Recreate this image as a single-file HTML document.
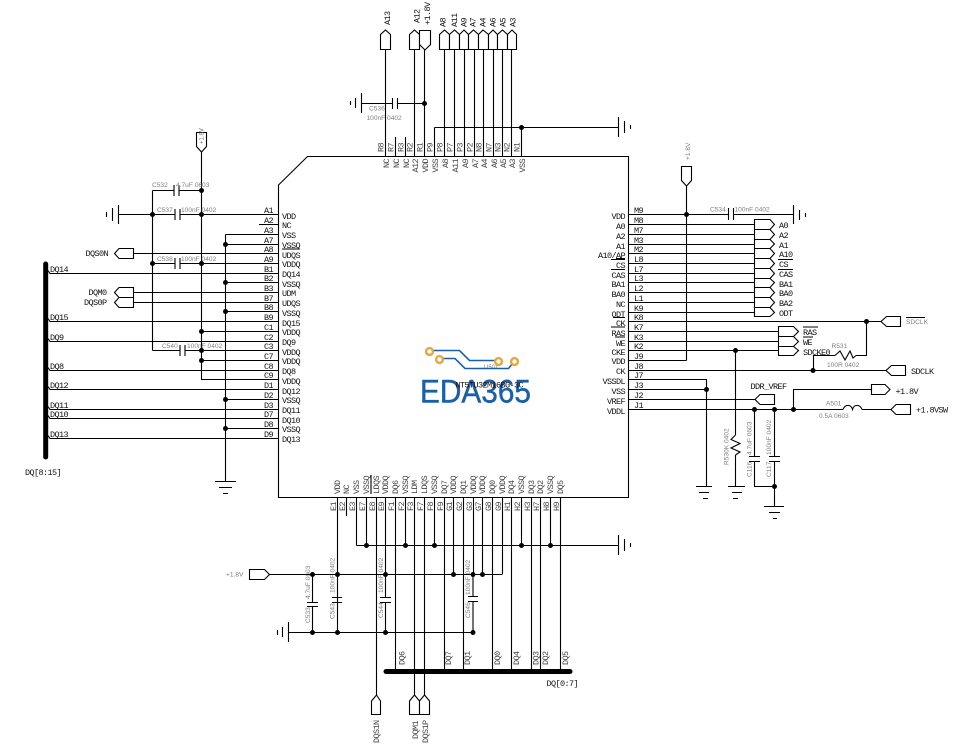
<!DOCTYPE html>
<html><head><meta charset="utf-8"><style>
html,body{margin:0;padding:0;background:#fff}
svg{display:block}
.l{fill:none;stroke:#000;stroke-width:1.1}
.s{fill:#fff;stroke:#000;stroke-width:1.1}
.m text,text.m{font-family:"Liberation Mono",monospace;font-size:8.5px;letter-spacing:-.6px;fill:#111}
.p text{fill:#444}
.g text,text.g{font-family:"Liberation Sans",sans-serif;font-size:6.6px;fill:#808080}
.e{text-anchor:end}
</style></head><body>
<svg xmlns="http://www.w3.org/2000/svg" width="954" height="749" viewBox="0 0 954 749">
<rect width="954" height="749" fill="#fff"/>
<!-- chip -->
<path class="l" d="M278.5 185L307.5 156.5H628.5V497.5H278.5Z"/>
<!-- top wiring -->
<path class="l" d="M385.5 49V156M395.5 137V156M405.5 137V156M414.5 49V156M424.5 50V156M434.5 127.5V156M444.5 49V156M454.5 49V156M464.5 49V156M474.5 49V156M483.5 49V156M493.5 49V156M502.5 49V156M511.5 49V156M521.5 127.5V156M434.5 127.5H618.5M618.5 117V137M624.5 121V133M630.5 125V129M361.5 103.5H392.5M397.5 103.5H424.5M361.5 93V113M355.5 98V108M350.5 101V105M392.5 98V109M397.5 98V109"/>
<g class="s">
<polygon points="380.5,49.5 380.5,34.5 385.5,30 390.5,34.5 390.5,49.5"/>
<polygon points="409.5,49.5 409.5,34.5 414.5,30 419.5,34.5 419.5,49.5"/>
<polygon points="419.5,30.5 430.5,30.5 430.5,44.5 425,50 419.5,44.5"/>
<polygon points="439.5,49.5 439.5,34.5 444.5,30 449.5,34.5 449.5,49.5"/>
<polygon points="449.5,49.5 449.5,34.5 454.5,30 459.5,34.5 459.5,49.5"/>
<polygon points="459.5,49.5 459.5,34.5 464,30 468.5,34.5 468.5,49.5"/>
<polygon points="468.5,49.5 468.5,34.5 473.5,30 478.5,34.5 478.5,49.5"/>
<polygon points="478.5,49.5 478.5,34.5 483,30 488.5,34.5 488.5,49.5"/>
<polygon points="488.5,49.5 488.5,34.5 493,30 497.5,34.5 497.5,49.5"/>
<polygon points="497.5,49.5 497.5,34.5 502.5,30 507.5,34.5 507.5,49.5"/>
<polygon points="507.5,49.5 507.5,34.5 512,30 516.5,34.5 516.5,49.5"/>
</g>
<g transform="rotate(-90)">
<g class="m">
<text x="-25" y="390">A13</text><text x="-23" y="419.5">A12</text><text x="-25" y="430">+1.8V</text>
<text x="-27" y="445.5">A8</text><text x="-27" y="457">A11</text><text x="-27" y="466.5">A9</text><text x="-27" y="475.5">A7</text><text x="-27" y="485.5">A4</text><text x="-27" y="495.5">A6</text><text x="-27" y="505.5">A5</text><text x="-27" y="515.5">A3</text>
</g>
<g class="m p">
<text x="-152" y="383.5">R8</text><text x="-152" y="393.5">R7</text><text x="-152" y="403.5">R3</text><text x="-152" y="412.5">R2</text><text x="-152" y="422.5">R1</text><text x="-152" y="432.5">P9</text><text x="-152" y="442.5">P8</text><text x="-152" y="452.5">P7</text><text x="-152" y="462.5">P3</text><text x="-152" y="472.5">P2</text><text x="-152" y="481.5">N8</text><text x="-152" y="491.5">N7</text><text x="-152" y="500.5">N3</text><text x="-152" y="509.5">N2</text><text x="-152" y="519.5">N1</text>
</g>
<g class="m p" text-anchor="end">
<text x="-159" y="389">NC</text><text x="-159" y="399">NC</text><text x="-159" y="409">NC</text><text x="-159" y="418">A12</text><text x="-159" y="428">VDD</text><text x="-159" y="438">VSS</text><text x="-159" y="448">A8</text><text x="-159" y="458">A11</text><text x="-159" y="468">A9</text><text x="-159" y="478">A7</text><text x="-159" y="487">A4</text><text x="-159" y="497">A6</text><text x="-159" y="506">A5</text><text x="-159" y="515">A3</text><text x="-159" y="525">VSS</text>
</g>
<!-- bottom labels -->
<g class="m p">
<text x="-494" y="340">VDD</text><text x="-494" y="349">NC</text><text x="-494" y="359">VSS</text><text x="-494" y="369">VSSQ</text><text x="-494" y="379">LDQS</text><text x="-494" y="388">VDDQ</text><text x="-494" y="398">DQ6</text><text x="-494" y="408">VSSQ</text><text x="-494" y="417">LDM</text><text x="-494" y="427">LDQS</text><text x="-494" y="437">VSSQ</text><text x="-494" y="447">DQ7</text><text x="-494" y="456">VDDQ</text><text x="-494" y="466">DQ1</text><text x="-494" y="476">VDDQ</text><text x="-494" y="485">VDDQ</text><text x="-494" y="495">DQ0</text><text x="-494" y="505">VDDQ</text><text x="-494" y="514">DQ4</text><text x="-494" y="524">VSSQ</text><text x="-494" y="534">DQ3</text><text x="-494" y="543">DQ2</text><text x="-494" y="553">VSSQ</text><text x="-494" y="563">DQ5</text>
<text x="-511" y="336">E1</text><text x="-511" y="345">E2</text><text x="-511" y="355">E3</text><text x="-511" y="365">E7</text><text x="-511" y="375">E8</text><text x="-511" y="384">E9</text><text x="-511" y="394">F1</text><text x="-511" y="404">F2</text><text x="-511" y="413">F3</text><text x="-511" y="423">F7</text><text x="-511" y="433">F8</text><text x="-511" y="443">F9</text><text x="-511" y="452">G1</text><text x="-511" y="462">G2</text><text x="-511" y="472">G3</text><text x="-511" y="481">G7</text><text x="-511" y="491">G8</text><text x="-511" y="501">G9</text><text x="-511" y="510">H1</text><text x="-511" y="520">H2</text><text x="-511" y="530">H3</text><text x="-511" y="539">H7</text><text x="-511" y="549">H8</text><text x="-511" y="559">H9</text>
<text x="-665" y="404.5">DQ6</text><text x="-665" y="451">DQ7</text><text x="-665" y="470">DQ1</text><text x="-665" y="500">DQ0</text><text x="-665" y="519">DQ4</text><text x="-665" y="538.5">DQ3</text><text x="-665" y="548">DQ2</text><text x="-665" y="568">DQ5</text>
<text x="-743" y="379">DQS1N</text><text x="-739" y="418">DQM1</text><text x="-743" y="428">DQS1P</text>
</g>
<!-- grey rotated -->
<g class="g">
<text x="-144" y="203.5" style="font-size:6px">+1.8V</text>
<text x="-160" y="690">+1.8V</text>
<text x="-465" y="728.5">R530K 0402</text>
<text x="-455" y="751.5">4.7uF 0603</text><text x="-477" y="751.5">C116</text>
<text x="-455" y="771">100nF 0402</text><text x="-477" y="771">C117</text>
<text x="-599" y="310">4.7uF 0603</text><text x="-623" y="310">C533</text>
<text x="-593" y="334.5">100nF 0402</text><text x="-619" y="334.5">C543</text>
<text x="-593" y="383">100nF 0402</text><text x="-618" y="383">C544</text>
<text x="-595" y="470">100nF 0402</text><text x="-618" y="470">C546</text>
</g>
</g>
<text class="g" x="369" y="110.5">C536</text><text class="g" x="366.5" y="120">100nF 0402</text>
<!-- left wiring -->
<path class="l" d="M118.5 214.5H175M180 214.5H278M118.5 205V224M112.5 208V221M106.5 212V217M175 209V220M180 209V220M201.5 152V379.5M152.5 190.5V350.5M152.5 190.5H174M179 190.5H201M174 185V196M179 185V196M152.5 263.5H175M180 263.5H278M175 258V269M180 258V269M152.5 350.5H180M185 350.5H278M180 345V356M185 345V356M201 331.5H278M201 360.5H278M201 379.5H278M259 224.5H278M225.5 234.5V481.5M225.5 234.5H278M225 244.5H278M225 282.5H278M225 311.5H278M225 399.5H278M225 428.5H278M215 481.5H236M219 487.5H232M223 493.5H228M133 253.5H278M133 292.5H278M133 302.5H278M48 270.5L50 273.5H278M48 318.5L50 321.5H278M48 338.5L50 341.5H278M48 367.5L50 370.5H278M48 386.5L50 389.5H278M48 406.5L50 409.5H278M48 415.5L50 418.5H278M48 435.5L50 438.5H278M282 249H300"/>
<polygon class="s" points="196.5,132.5 206.5,132.5 206.5,146.5 201.5,152 196.5,146.5"/>
<text class="g" transform="rotate(-90 203.5 144)" x="203.5" y="144" style="font-size:6px">+1.8V</text>
<g class="s">
<polygon points="133.5,248.5 119,248.5 114.5,253.5 119,258.5 133.5,258.5"/>
<polygon points="133.5,287.5 119,287.5 114.5,292.5 119,297.5 133.5,297.5"/>
<polygon points="133.5,297.5 119,297.5 114.5,302.5 119,307.5 133.5,307.5"/>
</g>
<line x1="45.7" y1="264" x2="45.7" y2="457" stroke="#000" stroke-width="5" stroke-linecap="round"/>
<g class="m">
<text x="85.5" y="256">DQS0N</text><text x="88.5" y="295">DQM0</text><text x="84" y="305">DQS0P</text>
<text x="50" y="272">DQ14</text><text x="50" y="320">DQ15</text><text x="50" y="340">DQ9</text><text x="50" y="369">DQ8</text><text x="50" y="388">DQ12</text><text x="50" y="408">DQ11</text><text x="50" y="417">DQ10</text><text x="50" y="437">DQ13</text>
<text x="25" y="475">DQ[8:15]</text>
</g>
<g class="m" text-anchor="end">
<text x="273" y="213">A1</text><text x="273" y="223">A2</text><text x="273" y="233">A3</text><text x="273" y="243">A7</text><text x="273" y="252">A8</text><text x="273" y="262">A9</text><text x="273" y="272">B1</text><text x="273" y="281">B2</text><text x="273" y="291">B3</text><text x="273" y="301">B7</text><text x="273" y="310">B8</text><text x="273" y="320">B9</text><text x="273" y="330">C1</text><text x="273" y="340">C2</text><text x="273" y="349">C3</text><text x="273" y="359">C7</text><text x="273" y="369">C8</text><text x="273" y="378">C9</text><text x="273" y="388">D1</text><text x="273" y="398">D2</text><text x="273" y="408">D3</text><text x="273" y="417">D7</text><text x="273" y="427">D8</text><text x="273" y="437">D9</text>
</g>
<g class="m">
<text x="282" y="219">VDD</text><text x="282" y="228">NC</text><text x="282" y="238">VSS</text><text x="282" y="248">VSSQ</text><text x="282" y="258">UDQS</text><text x="282" y="267">VDDQ</text><text x="282" y="277">DQ14</text><text x="282" y="287">VSSQ</text><text x="282" y="296">UDM</text><text x="282" y="306">UDQS</text><text x="282" y="316">VSSQ</text><text x="282" y="326">DQ15</text><text x="282" y="335">VDDQ</text><text x="282" y="345">DQ9</text><text x="282" y="355">VDDQ</text><text x="282" y="364">VDDQ</text><text x="282" y="374">DQ8</text><text x="282" y="384">VDDQ</text><text x="282" y="394">DQ12</text><text x="282" y="403">VSSQ</text><text x="282" y="413">DQ11</text><text x="282" y="423">DQ10</text><text x="282" y="432">VSSQ</text><text x="282" y="442">DQ13</text>
</g>
<g class="g">
<text x="152" y="187">C532</text><text x="176" y="187">4.7uF 0603</text>
<text x="157" y="212">C537</text><text x="181" y="212">100nF 0402</text>
<text x="157" y="261">C538</text><text x="181" y="261">100nF 0402</text>
<text x="162" y="348">C540</text><text x="187" y="348">100nF 0402</text>
</g>
<!-- right wiring -->
<path class="l" d="M628 214.5H728.5M733.5 214.5H793.5M728.5 208V220M733.5 208V220M793.5 205V224M799.5 210V220M805.5 213V217M686.5 186V360.5M628 360.5H686.5M628 224.5H754M628 234.5H754M628 244.5H754M628 253.5H754M628 263.5H754M628 273.5H754M628 282.5H754M628 292.5H754M628 302.5H754M628 312.5H754M628 321.5H881M866.5 321.5V355.5H856M835 355.5H813.5V370.5M628 331.5H778M628 341.5H778M628 350.5H778M628 370.5H886M628 379.5H706.5V486M628 389.5H706.5M696 486.5H712M699 492.5H709M703 498.5H708M735.5 350.5V435M735.5 455V486M728 486.5H745M732 492.5H742M733 498.5H738M628 399.5H755M628 409.5H843M862 409.5H891M793.5 409.5V389.5H872M754.5 409.5V456M774.5 409.5V456M749 456.5H760M749 461.5H760M769 456.5H780M769 461.5H780M754.5 461V486.5H774.5M774.5 461V506M764 506.5H784M769 512.5H780M773 518.5H777"/>
<path class="l" d="M835 355.5L840 351L845 360L850 351L853 358L856 355.5M735.5 435L731 439.5L740 443.5L731 448L740 452L735.5 455M843 409.5C845 404 851 404 852.5 409.5C854 404 860 404 862 409.5"/>
<path class="l" d="M611 259.5H625M611 269.5H625M613 317.5H625M611 327H625M615 337H625M778 259.5H793M778 269.5H793M803 327H818M803 337H813M906 317.5H925M616 258.5H625"/>
<g class="s">
<polygon points="681.5,166.5 691.5,166.5 691.5,180.5 686.5,186 681.5,180.5"/>
<polygon points="754.5,219.5 770,219.5 774.5,224.5 770,229.5 754.5,229.5"/>
<polygon points="754.5,229.5 770,229.5 774.5,234.5 770,239.5 754.5,239.5"/>
<polygon points="754.5,239.5 770,239.5 774.5,244 770,248.5 754.5,248.5"/>
<polygon points="754.5,248.5 770,248.5 774.5,253.5 770,258.5 754.5,258.5"/>
<polygon points="754.5,258.5 770,258.5 774.5,263.5 770,268.5 754.5,268.5"/>
<polygon points="754.5,268.5 770,268.5 774.5,273.5 770,278.5 754.5,278.5"/>
<polygon points="754.5,278.5 770,278.5 774.5,282.5 770,287.5 754.5,287.5"/>
<polygon points="754.5,287.5 770,287.5 774.5,292.5 770,297.5 754.5,297.5"/>
<polygon points="754.5,297.5 770,297.5 774.5,302.5 770,307.5 754.5,307.5"/>
<polygon points="754.5,307.5 770,307.5 774.5,312.5 770,316.5 754.5,316.5"/>
<polygon points="778.5,326.5 793.5,326.5 798.5,331.5 793.5,336.5 778.5,336.5"/>
<polygon points="778.5,336.5 793.5,336.5 798.5,341.5 793.5,346.5 778.5,346.5"/>
<polygon points="778.5,346.5 793.5,346.5 798.5,350.5 793.5,355.5 778.5,355.5"/>
<polygon points="900.5,316.5 886.5,316.5 881,321.5 886.5,326.5 900.5,326.5"/>
<polygon points="905.5,365.5 891.5,365.5 886,370.5 891.5,375.5 905.5,375.5"/>
<polygon points="774.5,394.5 760,394.5 755,399.5 760,404.5 774.5,404.5"/>
<polygon points="871.5,384.5 885,384.5 890,389.5 885,394.5 871.5,394.5"/>
<polygon points="910.5,404.5 896,404.5 891,409.5 896,414.5 910.5,414.5"/>
</g>
<g class="m">
<text x="634" y="213">M9</text><text x="634" y="223">M8</text><text x="634" y="233">M7</text><text x="634" y="243">M3</text><text x="634" y="252">M2</text><text x="634" y="262">L8</text><text x="634" y="272">L7</text><text x="634" y="281">L3</text><text x="634" y="291">L2</text><text x="634" y="301">L1</text><text x="634" y="311">K9</text><text x="634" y="320">K8</text><text x="634" y="330">K7</text><text x="634" y="340">K3</text><text x="634" y="349">K2</text><text x="634" y="359">J9</text><text x="634" y="369">J8</text><text x="634" y="378">J7</text><text x="634" y="388">J3</text><text x="634" y="398">J2</text><text x="634" y="408">J1</text>
<text x="779" y="228">A0</text><text x="779" y="238">A2</text><text x="779" y="248">A1</text><text x="779" y="257">A10</text><text x="779" y="267">CS</text><text x="779" y="277">CAS</text><text x="779" y="287">BA1</text><text x="779" y="296">BA0</text><text x="779" y="306">BA2</text><text x="779" y="316">ODT</text>
<text x="803" y="335">RAS</text><text x="803" y="345">WE</text><text x="803" y="355">SDCKE0</text>
<text x="911" y="374">SDCLK</text><text x="750.5" y="389">DDR_VREF</text><text x="895.5" y="394">+1.8V</text><text x="916" y="412.5">+1.8VSW</text>
</g>
<g class="m e" text-anchor="end">
<text x="625" y="219">VDD</text><text x="625" y="229">A0</text><text x="625" y="239">A2</text><text x="625" y="249">A1</text><text x="625" y="258">A10/AP</text><text x="625" y="268">CS</text><text x="625" y="278">CAS</text><text x="625" y="287">BA1</text><text x="625" y="297">BA0</text><text x="625" y="307">NC</text><text x="625" y="317">ODT</text><text x="625" y="326">CK</text><text x="625" y="336">RAS</text><text x="625" y="346">WE</text><text x="625" y="355">CKE</text><text x="625" y="364">VDD</text><text x="625" y="374">CK</text><text x="625" y="384">VSSDL</text><text x="625" y="394">VSS</text><text x="625" y="404">VREF</text><text x="625" y="414">VDDL</text>
</g>
<g class="g">
<text x="710" y="211.5">C534</text><text x="734.5" y="211.5">100nF 0402</text>
<text x="906" y="324">SDCLK</text>
<text x="831.5" y="348">R531</text><text x="827" y="367">100R 0402</text>
<text x="826" y="405.5">A501</text><text x="819" y="418">0.5A 0603</text>
<text x="226" y="576.5">+1.8V</text>
</g>
<!-- bottom wiring -->
<path class="l" d="M337.5 497V632M346.5 497V516M356.5 497V545.5M366.5 497V545M376.5 497V695M385.5 497V574M395.5 497V671M405.5 497V545M414.5 497V695M424.5 497V695M434.5 497V545M444.5 497V671M453.5 497V574M463.5 497V671M473.5 497V574M482.5 497V574M492.5 497V671M502.5 497V574M511.5 497V671M521.5 497V545M531.5 497V671M540.5 497V671M550.5 497V545M560.5 497V671M356.5 545.5H618.5M618.5 535V555M624.5 539V551M630.5 543V547M269 574.5H502.5M288.5 632.5H473M288.5 622V642M282.5 627V637M277.5 630V635M312.5 574V602M312.5 606V632M307 602.5H318M307 606.5H318M337.5 574V597M337.5 602V632M332 597.5H342M332 602.5H342M385.5 574V597M385.5 602V632M380 597.5H391M380 602.5H391M473 574V597M473 601V632M468 596.5H478M468 601.5H478M371 475V494"/>
<polygon class="s" points="249.5,569.5 264.5,569.5 269.5,574.5 264.5,579.5 249.5,579.5"/>
<line x1="386" y1="671.5" x2="570" y2="671.5" stroke="#000" stroke-width="5" stroke-linecap="round"/>
<g class="s">
<polygon points="371.5,714.5 371.5,701 376.5,695 380.5,701 380.5,714.5"/>
<polygon points="409.5,714.5 409.5,701 414.5,695 419.5,701 419.5,714.5"/>
<polygon points="419.5,714.5 419.5,701 424.5,695 429.5,701 429.5,714.5"/>
</g>
<text class="m" x="546.5" y="686">DQ[0:7]</text>
<!-- dots -->
<g fill="#000">
<circle cx="424.5" cy="103.5" r="2.5"/><circle cx="521.5" cy="127.5" r="2.5"/>
<circle cx="201.5" cy="190.5" r="2.5"/><circle cx="152.5" cy="214.5" r="2.5"/><circle cx="201.5" cy="214.5" r="2.5"/><circle cx="152.5" cy="263.5" r="2.5"/><circle cx="201.5" cy="263.5" r="2.5"/><circle cx="201.5" cy="331.5" r="2.5"/><circle cx="201.5" cy="350.5" r="2.5"/><circle cx="201.5" cy="360.5" r="2.5"/>
<circle cx="225.5" cy="244.5" r="2.5"/><circle cx="225.5" cy="282.5" r="2.5"/><circle cx="225.5" cy="311.5" r="2.5"/><circle cx="225.5" cy="399.5" r="2.5"/><circle cx="225.5" cy="428.5" r="2.5"/>
<circle cx="686.5" cy="214.5" r="2.5"/><circle cx="866.5" cy="321.5" r="2.5"/><circle cx="813" cy="370.5" r="2.5"/><circle cx="735.5" cy="350.5" r="2.5"/><circle cx="706.5" cy="389.5" r="2.5"/><circle cx="754.5" cy="409.5" r="2.5"/><circle cx="774.5" cy="409.5" r="2.5"/><circle cx="793.5" cy="409.5" r="2.5"/><circle cx="774.5" cy="486.5" r="2.5"/>
<circle cx="366.5" cy="545.5" r="2.5"/><circle cx="405.5" cy="545.5" r="2.5"/><circle cx="434.5" cy="545.5" r="2.5"/><circle cx="521.5" cy="545.5" r="2.5"/><circle cx="550.5" cy="545.5" r="2.5"/>
<circle cx="312.5" cy="574.5" r="2.5"/><circle cx="337.5" cy="574.5" r="2.5"/><circle cx="385.5" cy="574.5" r="2.5"/><circle cx="453.5" cy="574.5" r="2.5"/><circle cx="473" cy="574.5" r="2.5"/><circle cx="482.5" cy="574.5" r="2.5"/>
<circle cx="312.5" cy="632.5" r="2.5"/><circle cx="337.5" cy="632.5" r="2.5"/><circle cx="385.5" cy="632.5" r="2.5"/><circle cx="473" cy="632.5" r="2.5"/>
</g>
<!-- logo / part -->
<text class="g" x="484" y="369" style="font-size:6px">U501</text>
<path fill="none" stroke="#1b5fa8" stroke-width="1.6" d="M429 350.5H459.5L469.5 360.5H498M439 358.5H455L465 368.5H508.5L514 361.5"/>
<g fill="#fff" stroke="#eaa53a" stroke-width="2.4">
<circle cx="429.5" cy="351.5" r="3.4"/><circle cx="439.5" cy="359.5" r="3.4"/><circle cx="498.5" cy="361.5" r="3.4"/><circle cx="514.5" cy="361.5" r="3.4"/>
</g>
<text x="420" y="402.5" textLength="111" lengthAdjust="spacingAndGlyphs" style="font-family:'Liberation Sans',sans-serif;font-size:32px;fill:#1b5fa8;stroke:#1b5fa8;stroke-width:.4">EDA365</text>
<text class="m" x="455.5" y="387.5">NT5TU32M16BG-3C</text>
</svg>
</body></html>
